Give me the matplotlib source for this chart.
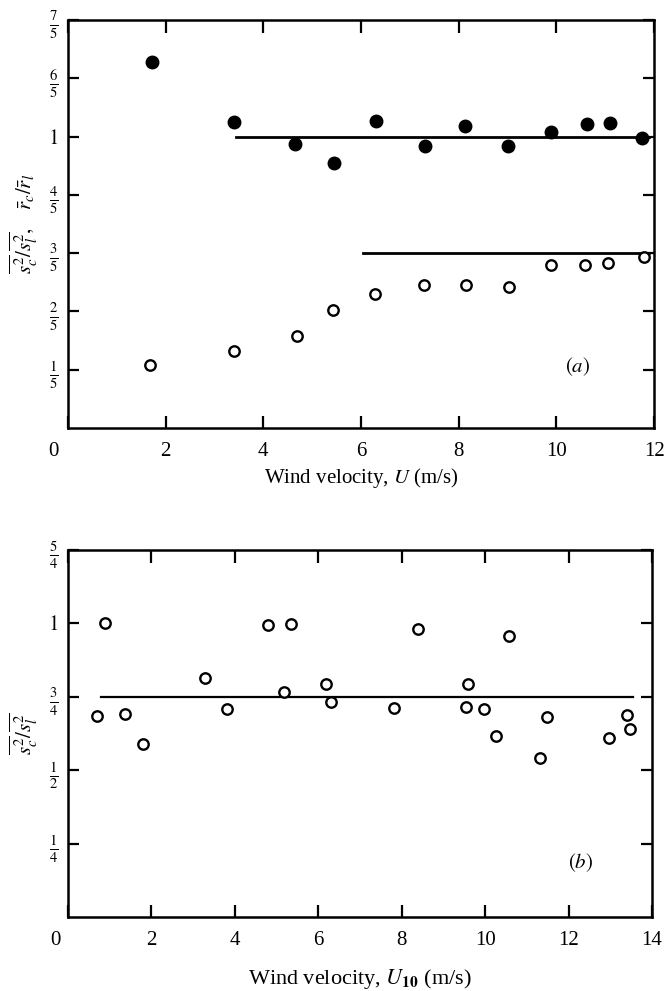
import matplotlib
matplotlib.use("Agg")
import matplotlib.pyplot as plt
from matplotlib.transforms import ScaledTranslation

plt.rcParams['font.family'] = ['Liberation Serif', 'DejaVu Serif']
plt.rcParams['mathtext.fontset'] = 'stix'

# panel (a): ratio of slick to clean values against wind velocity
a_filled_x = [1.72, 3.40, 4.65, 5.45, 6.31, 7.32, 8.13, 9.01, 9.90, 10.63, 11.09, 11.75]
a_filled_y = [1.255, 1.051, 0.975, 0.911, 1.054, 0.969, 1.036, 0.969, 1.017, 1.043, 1.045, 0.994]
a_open_x = [1.68, 3.40, 4.68, 5.43, 6.29, 7.30, 8.14, 9.04, 9.90, 10.59, 11.05, 11.79]
a_open_y = [0.217, 0.264, 0.316, 0.406, 0.459, 0.489, 0.489, 0.484, 0.561, 0.561, 0.565, 0.586]
a_fit_filled_x = [3.45, 11.9]
a_fit_filled_y = [1.0, 1.0]
a_fit_open_x = [6.05, 11.9]
a_fit_open_y = [0.6, 0.6]

# panel (b)
b_x = [0.70, 0.89, 1.37, 1.79, 3.29, 3.81, 4.80, 5.19, 5.34, 6.19, 6.31, 7.82,
       8.40, 9.58, 9.53, 9.98, 10.26, 10.58, 11.32, 11.48, 12.97, 13.40, 13.48]
b_y = [0.686, 1.0, 0.693, 0.588, 0.814, 0.707, 0.994, 0.765, 0.998, 0.792, 0.731, 0.712,
       0.981, 0.795, 0.716, 0.710, 0.616, 0.956, 0.540, 0.682, 0.608, 0.687, 0.640]
b_fit_x = [0.79, 13.55]
b_fit_y = [0.75, 0.75]

a_xticks = [0, 2, 4, 6, 8, 10, 12]
a_yticks = [0.2, 0.4, 0.6, 0.8, 1.0, 1.2, 1.4]
a_ylabels = [r'$\frac{1}{5}$', r'$\frac{2}{5}$', r'$\frac{3}{5}$', r'$\frac{4}{5}$',
             r'$1$', r'$\frac{6}{5}$', r'$\frac{7}{5}$']
b_xticks = [0, 2, 4, 6, 8, 10, 12, 14]
b_yticks = [0.25, 0.5, 0.75, 1.0, 1.25]
b_ylabels = [r'$\frac{1}{4}$', r'$\frac{1}{2}$', r'$\frac{3}{4}$', r'$1$', r'$\frac{5}{4}$']

fig = plt.figure(figsize=(6.67, 9.91), dpi=100)
ax1 = fig.add_axes([68/667, 1 - 428/991, 586/667, 408/991])
ax2 = fig.add_axes([68/667, 1 - 917/991, 584/667, 367/991])


def style_axis(ax):
    for s in ax.spines.values():
        s.set_linewidth(1.8)
    ax.tick_params(direction='in', top=True, right=True, length=9, width=1.6,
                   labelsize=15, pad=10)
    ax.tick_params(axis='y', length=8, pad=7)


def shift_label(lbl, dx):
    lbl.set_transform(lbl.get_transform() + ScaledTranslation(dx/100, 0, fig.dpi_scale_trans))


# ---- (a)
ax = ax1
ax.plot(a_fit_filled_x, a_fit_filled_y, color='black', lw=2.0)
ax.plot(a_fit_open_x, a_fit_open_y, color='black', lw=2.0)
ax.plot(a_filled_x, a_filled_y, 'o', color='black', markersize=9)
ax.plot(a_open_x, a_open_y, 'o', markerfacecolor='white', markeredgecolor='black',
        markersize=7.5, markeredgewidth=1.7)
ax.set_xlim(0, 12)
ax.set_ylim(0, 1.4)
ax.set_xticks(a_xticks)
ax.set_xticklabels([str(t) for t in a_xticks])
ax.set_yticks(a_yticks)
ax.set_yticklabels(a_ylabels, fontsize=16)
style_axis(ax)
xl = ax.get_xticklabels()
shift_label(xl[0], -15)
shift_label(xl[-1], 1)
ax.set_xlabel(r'Wind velocity, $U$ (m/s)', fontsize=15, labelpad=4)
ax.set_ylabel(r'$\overline{s^2_c}/\overline{s^2_l},\ \ \ \bar{r}_c/\bar{r}_l$',
              fontsize=15, labelpad=6)
ax.text(10.43, 0.21, r'$(a)$', fontsize=15, ha='center', va='center')

# ---- (b)
ax = ax2
ax.plot(b_fit_x, b_fit_y, color='black', lw=1.6)
ax.plot(b_x, b_y, 'o', markerfacecolor='white', markeredgecolor='black',
        markersize=7.5, markeredgewidth=1.7)
ax.set_xlim(0, 14)
ax.set_ylim(0, 1.25)
ax.set_xticks(b_xticks)
ax.set_xticklabels([str(t) for t in b_xticks])
ax.set_yticks(b_yticks)
ax.set_yticklabels(b_ylabels, fontsize=16)
style_axis(ax)
xl = ax.get_xticklabels()
shift_label(xl[0], -13)
ax.set_xlabel(r'Wind velocity, $U_{\mathbf{10}}$ (m/s)', fontsize=16, labelpad=12)
ax.set_ylabel(r'$\overline{s^2_c}/\overline{s^2_l}$', fontsize=15, labelpad=6)
ax.text(12.28, 0.184, r'$(b)$', fontsize=15, ha='center', va='center')

fig.savefig('out.png', dpi=100)
